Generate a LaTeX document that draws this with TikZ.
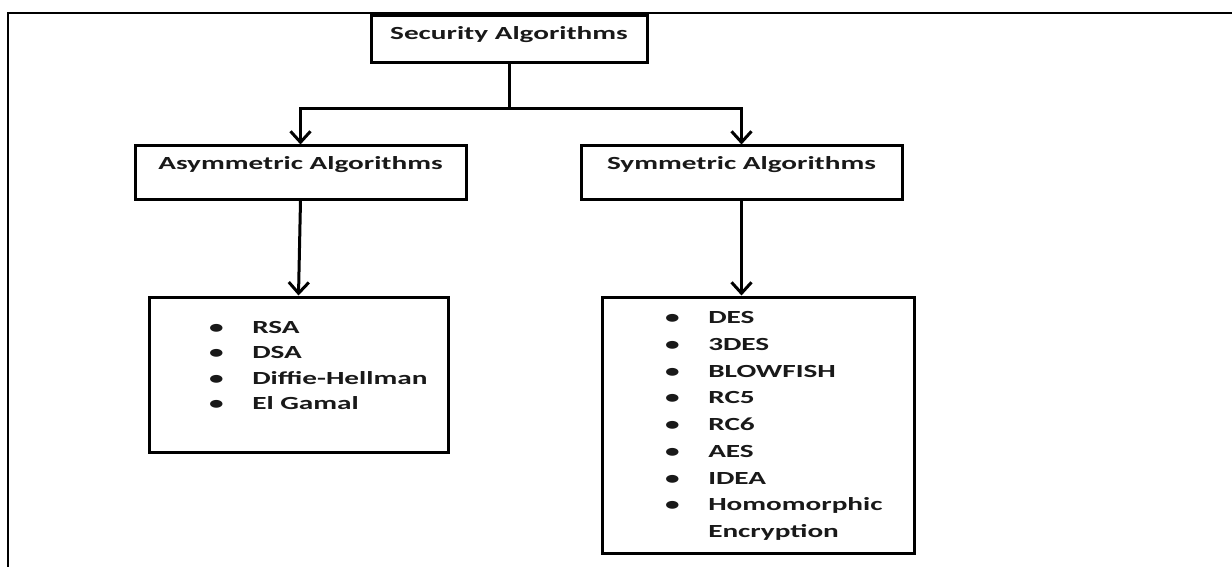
\documentclass[tikz,border=0pt]{standalone}
\usepackage{fontspec}
\setmainfont{Carlito}[FakeStretch=1.58]
\usepackage{tikz}
\usetikzlibrary{arrows.meta}
\usetikzlibrary{positioning}
\tikzset{box/.style = {draw, line width=3pt, fill=white, inner sep=0,
                       font=\fontsize{18.5}{22}\selectfont\bfseries}}
\tikzset{items/.style = {inner sep=0, anchor=north west, align=left}}
\tikzset{conn/.style = {line width=3pt}}
\tikzset{arr/.style = {line width=3pt, -{Straight Barb[length=11pt, width=20pt]}}}
\definecolor{ink}{rgb}{0.1, 0.1, 0.1}

\begin{document}
\begin{tikzpicture}[x=1pt, y=-1pt, text=ink]
      \useasboundingbox (0, 0) rectangle (1232, 567);
      \draw [line width=2pt] (8, 567) -- (8, 13) -- (1232, 13);

      \node [box, minimum width=276, minimum height=47, text height=12, text depth=12] (sec) at (509, 39.5) {Security Algorithms};
      \node [box, minimum width=331, minimum height=53, text height=12, text depth=17] (asym) at (300.5, 172.5) {Asymmetric Algorithms};
      \node [box, minimum width=321, minimum height=53, text height=12, text depth=17] (sym) at (741.5, 172.5) {Symmetric Algorithms};

      \node [box, minimum width=299, minimum height=155] (asymlist) at (298.5, 374.5) {};
      \node [box, minimum width=312, minimum height=256] (symlist) at (758, 425) {};

      \node [items, font=\fontsize{18.5}{25.5}\selectfont\bfseries] (asymitems) at (209, 315)
        {\begin{tabular}{@{}l@{\hspace{28.5pt}}l@{}}
           • & RSA \\
           • & DSA \\
           • & Diffie-Hellman \\
           • & El Gamal
         \end{tabular}};
      \node [items, font=\fontsize{18.5}{26.7}\selectfont\bfseries] (symitems) at (665, 305)
        {\begin{tabular}{@{}l@{\hspace{28.5pt}}l@{}}
           • & DES \\
           • & 3DES \\
           • & BLOWFISH \\
           • & RC5 \\
           • & RC6 \\
           • & AES \\
           • & IDEA \\
           • & Homomorphic \\
             & Encryption
         \end{tabular}};

      \draw [conn] (sec.south) -- ++(0, 44) coordinate (split);
      \draw [arr] (split) -| (asym.north);
      \draw [arr] (split) -| (sym.north);
      \draw [arr] (asym.south) -- (asymlist.north);
      \draw [arr] (sym.south) -- (symlist.north -| sym.south);
    \end{tikzpicture}
\end{document}
